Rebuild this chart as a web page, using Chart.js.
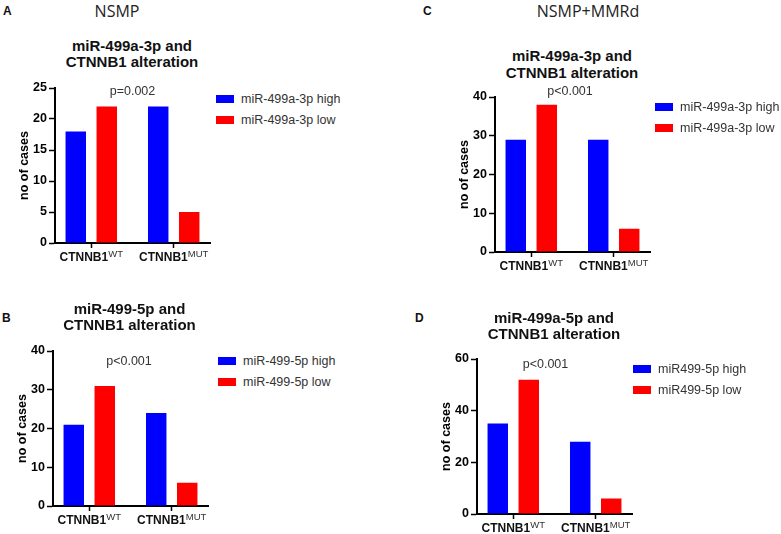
<!DOCTYPE html>
<html lang="en">
<head>
<meta charset="UTF-8">
<title>miR-499 and CTNNB1 alteration</title>
<script src="https://cdn.jsdelivr.net/npm/chart.js@4"></script>
<style>
    body { margin: 0; background: #fff; font-family: "Liberation Sans", Arial, sans-serif; }
    #page { position: relative; width: 781px; height: 534px; overflow: hidden; background: #fff; }
    #page div { position: absolute; white-space: nowrap; }
    canvas { position: absolute; }
    .letter { font-weight: bold; font-size: 12px; line-height: 12px; color: #111; }
    .group { font-family: "Open Sans", sans-serif; font-size: 16px; line-height: 16px; color: #222; transform: translate(-50%, -50%); }
    .title { font-weight: bold; font-size: 15px; line-height: 16.5px; text-align: center; color: #111; transform: translateX(-50%); }
    .pval { font-size: 12.5px; line-height: 13px; color: #333; transform: translate(-50%, -50%); }
    .legend { font-size: 12.5px; color: #333; }
    #page .legend div { position: static; height: 21px; display: flex; align-items: center; }
    .legend span { display: inline-block; width: 18px; height: 8px; margin-right: 7px; }
    .xlab { font-weight: bold; font-size: 12px; line-height: 12px; color: #111; transform: translate(-50%, -50%); }
    .xlab sup { font-weight: normal; font-size: 9.5px; color: #333; vertical-align: 4px; line-height: 0; }
</style>
</head>
<body>
<div id="page"></div>
<script>
    // categories (CTNNB1 status, shown as superscript)
    const gene = 'CTNNB1';
    const categories = ['WT', 'MUT'];

    // A: NSMP, miR-499a-3p
    const a_high = [18, 22];
    const a_low = [22, 5];
    // B: NSMP, miR-499-5p
    const b_high = [21, 24];
    const b_low = [31, 6];
    // C: NSMP+MMRd, miR-499a-3p
    const c_high = [29, 29];
    const c_low = [38, 6];
    // D: NSMP+MMRd, miR-499a-5p
    const d_high = [35, 28];
    const d_low = [52, 6];

    const yTicksA = [0, 5, 10, 15, 20, 25];
    const yTicksB = [0, 10, 20, 30, 40];
    const yTicksC = [0, 10, 20, 30, 40];
    const yTicksD = [0, 20, 40, 60];

    const BLUE = '#0000ff';
    const RED = '#ff0000';

    const page = document.getElementById('page');

    function addText(cls, html, x, y) {
        const d = document.createElement('div');
        d.className = cls;
        d.innerHTML = html;
        d.style.left = x + 'px';
        d.style.top = y + 'px';
        page.appendChild(d);
        return d;
    }

    addText('group', 'NSMP', 117, 11);
    addText('group', 'NSMP+MMRd', 588, 11);

    const panels = [
        { letter: 'A', letterPos: [3, 5], title: ['miR-499a-3p and', 'CTNNB1 alteration'], titlePos: [132, 37.5],
          p: 'p=0.002', pPos: [132.5, 90.5], names: ['miR-499a-3p high', 'miR-499a-3p low'],
          high: a_high, low: a_low, ticks: yTicksA, legendPos: [216, 88.5],
          plot: { l: 55, t: 88, r: 210, b: 243 } },
        { letter: 'B', letterPos: [2, 312], title: ['miR-499-5p and', 'CTNNB1 alteration'], titlePos: [129.5, 300.5],
          p: 'p&lt;0.001', pPos: [129, 360.5], names: ['miR-499-5p high', 'miR-499-5p low'],
          high: b_high, low: b_low, ticks: yTicksB, legendPos: [218, 350.5],
          plot: { l: 53, t: 351, r: 208, b: 506 } },
        { letter: 'C', letterPos: [423, 5], title: ['miR-499a-3p and', 'CTNNB1 alteration'], titlePos: [572, 48],
          p: 'p&lt;0.001', pPos: [570, 90.5], names: ['miR-499a-3p high', 'miR-499a-3p low'],
          high: c_high, low: c_low, ticks: yTicksC, legendPos: [655, 96.5],
          plot: { l: 495, t: 97, r: 650, b: 252 } },
        { letter: 'D', letterPos: [415, 312], title: ['miR-499a-5p and', 'CTNNB1 alteration'], titlePos: [554, 309.5],
          p: 'p&lt;0.001', pPos: [545.5, 363.5], names: ['miR499-5p high', 'miR499-5p low'],
          high: d_high, low: d_low, ticks: yTicksD, legendPos: [633, 358.5],
          plot: { l: 477, t: 359, r: 632, b: 514 } }
    ];

    Chart.defaults.font.family = '"Liberation Sans", Arial, sans-serif';
    Chart.defaults.color = '#000';

    function makePanel(p) {
        const Yw = 46, Xh = 26, Tpad = 10, Rpad = 6;
        const plotW = p.plot.r - p.plot.l, plotH = p.plot.b - p.plot.t;
        const canvas = document.createElement('canvas');
        canvas.width = Yw + plotW + Rpad;
        canvas.height = Tpad + plotH + Xh;
        canvas.style.width = canvas.width + 'px';
        canvas.style.height = canvas.height + 'px';
        canvas.style.left = (p.plot.l - Yw) + 'px';
        canvas.style.top = (p.plot.t - Tpad) + 'px';
        page.appendChild(canvas);

        const datasets = [
            { label: p.names[0], data: p.high.map((v, i) => ({ x: i, y: v })), backgroundColor: BLUE },
            { label: p.names[1], data: p.low.map((v, i) => ({ x: i, y: v })), backgroundColor: RED }
        ];
        const step = p.ticks[1] - p.ticks[0];

        const chart = new Chart(canvas, {
            type: 'bar',
            data: { datasets: datasets },
            options: {
                responsive: false,
                animation: false,
                layout: { padding: { top: Tpad, right: Rpad, left: 0, bottom: 0 } },
                datasets: { bar: { categoryPercentage: 0.752, barPercentage: 0.66, borderWidth: 0 } },
                plugins: { legend: { display: false }, tooltip: { enabled: false } },
                scales: {
                    x: {
                        type: 'linear',
                        offset: false,
                        min: -0.44,
                        max: categories.length - 1 + 0.44,
                        afterBuildTicks: s => { s.ticks = categories.map((c, i) => ({ value: i })); },
                        afterFit: s => { s.height = Xh; },
                        ticks: { display: false },
                        grid: { offset: false, drawOnChartArea: false, drawTicks: true, tickLength: 5, tickWidth: 1.5, tickColor: '#000' },
                        border: { display: true, color: '#000', width: 2 }
                    },
                    y: {
                        min: p.ticks[0],
                        max: p.ticks[p.ticks.length - 1],
                        afterFit: s => { s.width = Yw; },
                        ticks: { stepSize: step, padding: 2, font: { size: 12.5, weight: 'bold' }, color: '#000' },
                        grid: { drawOnChartArea: false, drawTicks: true, tickLength: 6, tickWidth: 1.5, tickColor: '#000' },
                        border: { display: true, color: '#000', width: 2 },
                        title: { display: true, text: 'no of cases', font: { size: 12.5, weight: 'bold' }, color: '#000', padding: { top: 8, bottom: 0 } }
                    }
                }
            }
        });

        // category labels with superscripts, placed from the x scale
        const xs = chart.scales.x;
        const left = parseFloat(canvas.style.left), top = parseFloat(canvas.style.top);
        categories.forEach((c, i) => {
            addText('xlab', gene + '<sup>' + c + '</sup>', left + xs.getPixelForValue(i), top + xs.top + 14);
        });

        // legend from the datasets
        const lg = addText('legend', '', p.legendPos[0], p.legendPos[1]);
        datasets.forEach(ds => {
            const row = document.createElement('div');
            row.innerHTML = '<span style="background:' + ds.backgroundColor + '"></span>' + ds.label;
            lg.appendChild(row);
        });

        addText('letter', p.letter, p.letterPos[0], p.letterPos[1]);
        addText('title', p.title.join('<br>'), p.titlePos[0], p.titlePos[1]);
        addText('pval', p.p, p.pPos[0], p.pPos[1]);
    }

    panels.forEach(makePanel);
</script>
</body>
</html>
